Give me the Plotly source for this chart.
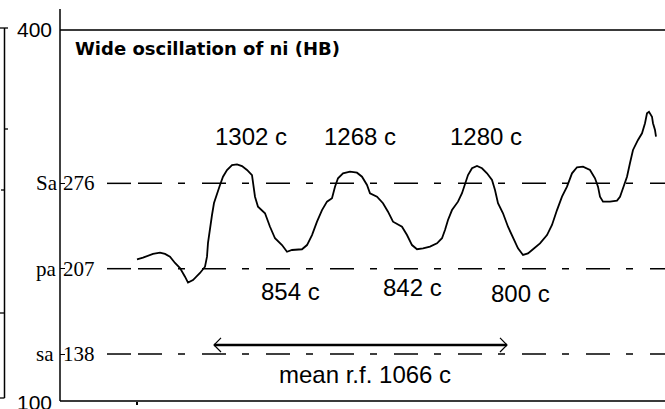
import plotly.graph_objects as go

# ---------------- data (x: sample index along record, y: HB value) ----------------
curve_x = [77, 83, 93, 100, 105, 110, 115, 120, 125, 128, 133, 140, 145, 147, 148, 150, 152, 154,
           157, 160, 163, 167, 172, 177, 182, 187, 192, 193.5, 195, 198, 205, 210, 215, 222, 227,
           232, 237, 242, 247, 252, 257, 262, 267, 272, 275, 278, 283, 290, 297, 302, 307, 310,
           317, 323, 328, 333, 342, 347, 352, 357, 363, 370, 377, 382, 385, 388, 392, 398, 402,
           405, 408, 412, 417, 422, 427, 432, 435, 438, 443, 448, 453, 458, 463, 468, 473, 480,
           487, 492, 497, 502, 507, 512, 517, 523, 530, 535, 538, 540, 543, 550, 557, 560, 563,
           567, 570, 573, 578, 582, 585, 587, 589, 592, 593, 595, 596]
curve_y = [214.6, 215.9, 218.9, 219.9, 218.9, 216.7, 211.6, 207.5, 200.5, 195.7, 197.8, 203.5,
           208.6, 216.7, 227.8, 240.9, 250.4, 260.1, 268.2, 274.7, 281.4, 286.8, 290.8, 291.4,
           290.0, 286.8, 282.7, 273.3, 265.2, 257.1, 251.8, 240.9, 231.6, 226.1, 220.7, 222.1,
           222.7, 222.7, 226.1, 234.2, 245.0, 254.4, 261.2, 263.9, 273.3, 280.1, 284.1, 285.4,
           284.6, 281.4, 274.7, 268.0, 265.2, 259.9, 253.1, 245.0, 240.9, 234.2, 226.1, 222.7,
           223.5, 224.8, 227.5, 231.6, 238.3, 246.4, 254.4, 261.2, 268.0, 274.7, 282.7, 288.2,
           290.0, 288.2, 284.1, 278.7, 270.6, 259.9, 251.8, 240.9, 231.6, 223.5, 218.1, 219.4,
           222.7, 227.5, 234.2, 242.3, 254.4, 265.2, 273.3, 284.1, 289.0, 289.5, 286.8, 280.1,
           273.3, 265.2, 261.2, 261.2, 262.0, 265.2, 272.0, 281.4, 292.5, 303.0, 311.1, 316.5,
           324.6, 332.6, 333.9, 329.9, 324.6, 319.1, 313.7]

level_values = [276, 207, 138]
level_names = ["Sa", "pa", "sa"]
level_labels = ["276", "207", "138"]

y_min, y_max = 100, 400
x_min, x_max = 0, 605

peak_labels = ["1302 c", "1268 c", "1280 c"]
peak_label_x = [191, 300, 426]
peak_label_y = [313.5, 313.5, 313.5]

trough_labels = ["854 c", "842 c", "800 c"]
trough_label_x = [230, 352, 460]
trough_label_y = [188.9, 191.4, 187.3]

mean_label = "mean r.f. 1066 c"
mean_label_x = 305
mean_label_y = 121.8
arrow_x = [154, 447]
arrow_y = 145.3

title_text = "Wide oscillation of ni (HB)"
title_x = 13
title_y = 385.4

# ---------------- layout geometry ----------------
W, H = 665, 409
L, T, B = 60, 30, 401


def px_x(p):
    return (p - L) / (W - L)


def px_y(p):
    return (B - p) / (B - T)


fig = go.Figure()

# main curve
fig.add_trace(go.Scatter(x=curve_x, y=curve_y, mode="lines",
                         line=dict(color="black", width=1.8), hoverinfo="skip"))

# double-headed arrow
head_dx = 7
head_dy = 5.7
fig.add_trace(go.Scatter(x=arrow_x, y=[arrow_y, arrow_y], mode="lines",
                         line=dict(color="black", width=2.5), hoverinfo="skip"))
fig.add_trace(go.Scatter(
    x=[arrow_x[0] + head_dx, arrow_x[0], arrow_x[0] + head_dx, None,
       arrow_x[1] - head_dx, arrow_x[1], arrow_x[1] - head_dx],
    y=[arrow_y + head_dy, arrow_y, arrow_y - head_dy, None,
       arrow_y + head_dy, arrow_y, arrow_y - head_dy],
    mode="lines", line=dict(color="black", width=1.2), hoverinfo="skip"))

shapes = []
# dashed level lines
for v in level_values:
    shapes.append(dict(type="line", xref="x", yref="y", x0=47, x1=71, y0=v, y1=v,
                       line=dict(color="black", width=1.5)))
    shapes.append(dict(type="line", xref="x", yref="y", x0=78, x1=x_max, y0=v, y1=v,
                       line=dict(color="black", width=1.5, dash="24px,16px,7px,17px")))

# frame lines
shapes.append(dict(type="line", xref="paper", yref="paper", x0=0, x1=1, y0=1, y1=1,
                   line=dict(color="#3a3a3a", width=2)))
shapes.append(dict(type="line", xref="paper", yref="paper", x0=0, x1=1, y0=0, y1=0,
                   line=dict(color="#3a3a3a", width=2)))
shapes.append(dict(type="line", xref="paper", yref="paper", x0=0, x1=0, y0=0, y1=px_y(9),
                   line=dict(color="black", width=1.5)))
# partial neighbouring axis on far left
lx = px_x(4.5)
shapes.append(dict(type="line", xref="paper", yref="paper", x0=lx, x1=lx, y0=px_y(398), y1=px_y(28),
                   line=dict(color="black", width=1.5)))
for (a, b, py) in [(0, 8, 28), (4.5, 8, 129), (1, 4.5, 190), (0, 4.5, 313), (0, 4.5, 398)]:
    shapes.append(dict(type="line", xref="paper", yref="paper", x0=px_x(a), x1=px_x(b),
                       y0=px_y(py), y1=px_y(py), line=dict(color="black", width=1.3)))

annotations = []
sans = "Liberation Sans, Arial, sans-serif"
serif = "Liberation Serif, Times New Roman, serif"
annotations.append(dict(x=title_x, y=title_y, xref="x", yref="y", text="<b>" + title_text + "</b>",
                        showarrow=False, xanchor="left", yanchor="middle",
                        font=dict(family="DejaVu Sans, sans-serif", size=18, color="black")))
for t, x, y in zip(peak_labels + trough_labels, peak_label_x + trough_label_x,
                   peak_label_y + trough_label_y):
    annotations.append(dict(x=x, y=y, xref="x", yref="y", text=t, showarrow=False,
                            font=dict(family=sans, size=24, color="black")))
annotations.append(dict(x=mean_label_x, y=mean_label_y, xref="x", yref="y", text=mean_label,
                        showarrow=False, font=dict(family=sans, size=24, color="black")))
for v, n, lab in zip(level_values, level_names, level_labels):
    annotations.append(dict(x=px_x(34), y=v, xref="paper", yref="y", text=n, showarrow=False,
                            font=dict(family=serif, size=21, color="black")))
    annotations.append(dict(x=px_x(61), y=v, xref="paper", yref="y", text=lab, showarrow=False,
                            xanchor="left", font=dict(family=serif, size=21, color="black")))
for v in (y_max, y_min):
    annotations.append(dict(x=px_x(54), y=v, xref="paper", yref="y", text=str(v), showarrow=False,
                            xanchor="right", yshift=(-1 if v == y_min else 1),
                            font=dict(family=sans, size=21, color="black")))

fig.update_layout(
    width=W, height=H,
    margin=dict(l=L, r=W - 665, t=T, b=H - B, pad=0),
    paper_bgcolor="white", plot_bgcolor="white",
    showlegend=False,
    shapes=shapes, annotations=annotations,
    xaxis=dict(range=[x_min, x_max], showgrid=False, zeroline=False, showline=False,
               tickvals=[77], ticks="outside", ticklen=3, tickcolor="black", tickwidth=1.5,
               showticklabels=False, fixedrange=True),
    yaxis=dict(range=[y_min, y_max], showgrid=False, zeroline=False, showline=False,
               tickvals=level_values, ticks="inside", ticklen=5, tickcolor="black", tickwidth=1.3,
               showticklabels=False, fixedrange=True),
)

fig.write_html("out.html", config={"displayModeBar": False},
               post_script="document.body.style.margin='0';document.body.style.overflow='hidden';")
